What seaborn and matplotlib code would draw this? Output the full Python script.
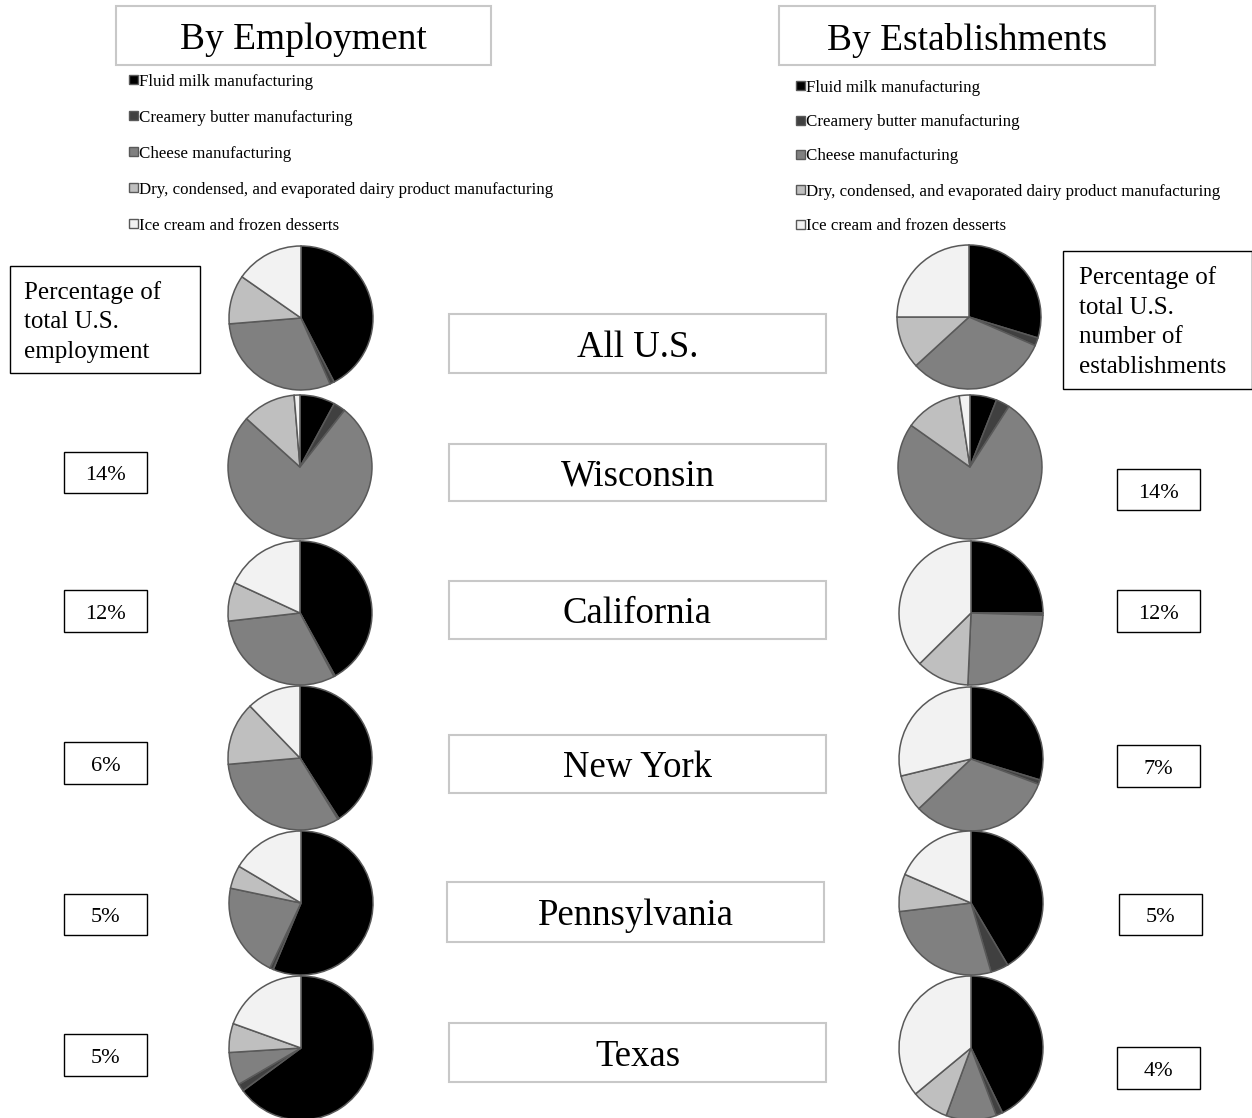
import matplotlib
matplotlib.use("Agg")
import matplotlib.pyplot as plt
from matplotlib.patches import Rectangle
import seaborn as sns

# ---------------- data ----------------
categories = [
    "Fluid milk manufacturing",
    "Creamery butter manufacturing",
    "Cheese manufacturing",
    "Dry, condensed, and evaporated dairy product manufacturing",
    "Ice cream and frozen desserts",
]
regions = ["All U.S.", "Wisconsin", "California", "New York", "Pennsylvania", "Texas"]

# share of each region in U.S. totals (labels)
emp_share_labels = ["14%", "12%", "6%", "5%", "5%"]
est_share_labels = ["14%", "12%", "7%", "5%", "4%"]

# employment mix (%) per region, in category order
emp_all_us = [42.4, 1.0, 30.3, 11.0, 15.3]
emp_wisconsin = [7.9, 2.7, 76.1, 12.0, 1.3]
emp_california = [41.9, 0.3, 31.0, 8.7, 18.1]
emp_new_york = [40.9, 0.3, 32.4, 14.2, 12.2]
emp_pennsylvania = [56.3, 0.8, 21.2, 5.2, 16.5]
emp_texas = [64.9, 1.7, 7.4, 6.5, 19.5]

# establishment mix (%) per region, in category order
est_all_us = [29.7, 1.8, 31.7, 11.8, 25.0]
est_wisconsin = [6.0, 3.1, 75.7, 12.8, 2.4]
est_california = [25.0, 0.5, 25.2, 11.9, 37.4]
est_new_york = [29.7, 1.0, 32.2, 8.3, 28.8]
est_pennsylvania = [41.5, 4.0, 27.6, 8.4, 18.5]
est_texas = [42.8, 1.5, 11.3, 8.4, 36.0]

emp_data = [emp_all_us, emp_wisconsin, emp_california, emp_new_york, emp_pennsylvania, emp_texas]
est_data = [est_all_us, est_wisconsin, est_california, est_new_york, est_pennsylvania, est_texas]

# ---------------- style ----------------
sns.set_theme(style="white")
plt.rcParams["font.family"] = ["Liberation Serif", "DejaVu Serif"]
plt.rcParams["text.color"] = "black"
palette = sns.color_palette(["#000000", "#404040", "#808080", "#bfbfbf", "#f2f2f2"])
EDGE = "#595959"

W, H = 1252, 1118
fig = plt.figure(figsize=(W / 100, H / 100), dpi=100)
fig.patch.set_facecolor("white")

ov = fig.add_axes([0, 0, 1, 1])
ov.set_xlim(0, W)
ov.set_ylim(H, 0)
ov.axis("off")


def box(x0, y0, x1, y1, color, lw):
    ov.add_patch(Rectangle((x0, y0), x1 - x0, y1 - y0, fill=False,
                           edgecolor=color, linewidth=lw))


# headers
box(116, 6, 491, 65, "#c8c8c8", 1.5)
ov.text(303.5, 40, "By Employment", ha="center", va="center", fontsize=27)
box(779, 6, 1155, 65, "#c8c8c8", 1.5)
ov.text(967, 40, "By Establishments", ha="center", va="center", fontsize=27)

# legends
def legend(x, ys):
    for c, lab, y in zip(palette, categories, ys):
        ov.add_patch(Rectangle((x, y - 5), 9, 9, facecolor=c, edgecolor=EDGE, linewidth=1))
        ov.text(x + 10, y + 1.5, lab, ha="left", va="center", fontsize=12.2)

legend(129, [80, 116, 152, 188, 224])
legend(796, [86, 121, 155, 190, 225])

# region name boxes
name_boxes = [(449, 314, 826, 373), (449, 444, 826, 501), (449, 581, 826, 639),
              (449, 735, 826, 793), (447, 882, 824, 942), (449, 1023, 826, 1082)]
for name, (x0, y0, x1, y1) in zip(regions, name_boxes):
    box(x0, y0, x1, y1, "#c8c8c8", 1.5)
    ov.text((x0 + x1) / 2, (y0 + y1) / 2 + 4, name, ha="center", va="center", fontsize=26.5)

# percentage explanation boxes
box(10, 266, 200, 373, "black", 1.0)
ov.text(24, 322, "Percentage of\ntotal U.S.\nemployment", ha="left", va="center",
        fontsize=18, linespacing=1.45)
box(1063, 251, 1252, 389, "black", 1.0)
ov.text(1079, 322, "Percentage of\ntotal U.S.\nnumber of\nestablishments", ha="left",
        va="center", fontsize=18, linespacing=1.45)

left_boxes = [(64, 452, 147, 493), (64, 590, 147, 632), (64, 742, 147, 784),
              (64, 894, 147, 935), (64, 1034, 147, 1076)]
right_boxes = [(1117, 469, 1200, 510), (1117, 590, 1200, 632), (1117, 745, 1200, 787),
               (1119, 894, 1202, 935), (1117, 1047, 1200, 1089)]
for lab, (x0, y0, x1, y1) in zip(emp_share_labels, left_boxes):
    box(x0, y0, x1, y1, "black", 1.0)
    ov.text((x0 + x1) / 2, (y0 + y1) / 2 + 3.5, lab, ha="center", va="center", fontsize=16)
for lab, (x0, y0, x1, y1) in zip(est_share_labels, right_boxes):
    box(x0, y0, x1, y1, "black", 1.0)
    ov.text((x0 + x1) / 2, (y0 + y1) / 2 + 3.5, lab, ha="center", va="center", fontsize=16)

# pies
emp_centers = [(301, 318), (300, 467), (300, 613), (300, 758), (301, 903), (301, 1048)]
est_centers = [(969, 317), (970, 467), (971, 613), (971, 759), (971, 903), (971, 1048)]
R = 72
PAD = 4


def draw_pie(vals, cx, cy):
    a = fig.add_axes([(cx - R - PAD) / W, 1 - (cy + R + PAD) / H,
                      2 * (R + PAD) / W, 2 * (R + PAD) / H])
    a.pie(vals, colors=palette, startangle=90, counterclock=False, radius=1.0,
          wedgeprops=dict(edgecolor=EDGE, linewidth=1.1))
    lim = (R + PAD) / R
    a.set_xlim(-lim, lim)
    a.set_ylim(-lim, lim)
    a.axis("off")


for vals, (cx, cy) in zip(emp_data, emp_centers):
    draw_pie(vals, cx, cy)
for vals, (cx, cy) in zip(est_data, est_centers):
    draw_pie(vals, cx, cy)

fig.savefig("out.png", dpi=100, facecolor="white")
